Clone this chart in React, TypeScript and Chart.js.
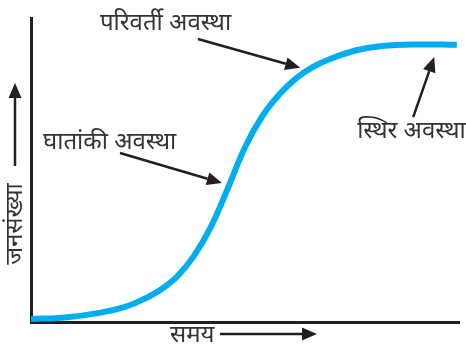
import React, { useEffect, useRef } from "react";
import { Chart, registerables } from "chart.js";
Chart.register(...registerables);

// Logistic (S-shaped) population growth curve
const TIME = [0, 8, 16, 22, 26, 30, 34, 38, 42, 46, 50, 54, 58, 62, 66, 70, 76, 82, 90, 99.5];
const POPULATION = [1.0, 1.5, 3.0, 5.0, 7.3, 10.4, 14.8, 21.6, 31.2, 44, 57.5, 67.6, 74.8, 80.2, 84.0, 86.6, 89.4, 90.8, 91.3, 91.2];
const PHASE_LABELS = ["परिवर्ती अवस्था", "घातांकी अवस्था", "स्थिर अवस्था"];
const X_TITLE = "समय";
const Y_TITLE = "जनसंख्या";

const FONT = '"Noto Sans", "Lohit Devanagari", "Noto Sans Devanagari", sans-serif';
const INK = "#231f20";
const TEXT = "#333333";
const FONT_SIZE = 24;

function arrow(ctx: CanvasRenderingContext2D, x1: number, y1: number, x2: number, y2: number) {
  const head = 15;
  const half = 6.5;
  const ang = Math.atan2(y2 - y1, x2 - x1);
  const bx = x2 - head * Math.cos(ang);
  const by = y2 - head * Math.sin(ang);
  ctx.save();
  ctx.strokeStyle = INK;
  ctx.fillStyle = INK;
  ctx.lineWidth = 2.5;
  ctx.beginPath();
  ctx.moveTo(x1, y1);
  ctx.lineTo(bx, by);
  ctx.stroke();
  ctx.beginPath();
  ctx.moveTo(x2, y2);
  ctx.lineTo(bx - half * Math.sin(ang), by + half * Math.cos(ang));
  ctx.lineTo(bx + half * Math.sin(ang), by - half * Math.cos(ang));
  ctx.closePath();
  ctx.fill();
  ctx.restore();
}

const annotationPlugin = {
  id: "phaseAnnotations",
  afterDraw(chart: any) {
    const ctx: CanvasRenderingContext2D = chart.ctx;
    const xs = chart.scales.x;
    const ys = chart.scales.y;
    const X = (v: number) => xs.getPixelForValue(v);
    const Y = (v: number) => ys.getPixelForValue(v);
    const area = chart.chartArea;

    ctx.save();
    ctx.fillStyle = TEXT;
    ctx.font = `${FONT_SIZE}px ${FONT}`;
    ctx.textBaseline = "middle";
    ctx.textAlign = "left";
    ctx.fillText(PHASE_LABELS[0], X(16.1), Y(98.4));
    ctx.fillText(PHASE_LABELS[1], X(2.8), Y(59.2));
    ctx.fillText(PHASE_LABELS[2], X(76.2), Y(62.8));
    ctx.restore();

    arrow(ctx, X(39.0), Y(93.1), X(62.9), Y(83.6));
    arrow(ctx, X(20.8), Y(55.6), X(44.6), Y(45.7));
    arrow(ctx, X(89.3), Y(67.4), X(94.2), Y(87.2));

    // axis titles
    ctx.save();
    ctx.fillStyle = TEXT;
    ctx.font = `${FONT_SIZE}px ${FONT}`;
    ctx.textBaseline = "middle";
    ctx.textAlign = "left";
    ctx.fillText(X_TITLE, area.left + 139, area.bottom + 13);
    ctx.restore();
    arrow(ctx, area.left + 189, area.bottom + 12, area.left + 286, area.bottom + 12);

    ctx.save();
    ctx.fillStyle = TEXT;
    ctx.font = `${FONT_SIZE}px ${FONT}`;
    ctx.textBaseline = "middle";
    ctx.textAlign = "center";
    ctx.translate(area.left - 16, 224);
    ctx.rotate(-Math.PI / 2);
    ctx.fillText(Y_TITLE, 0, 0);
    ctx.restore();
    arrow(ctx, area.left - 16, 166, area.left - 16, 83);
  },
};

export default function App() {
  const ref = useRef<HTMLCanvasElement | null>(null);
  useEffect(() => {
    document.body.style.margin = "0";
    const canvas = ref.current;
    if (!canvas) return;
    const chart = new Chart(canvas, {
      type: "line",
      data: {
        datasets: [
          {
            data: TIME.map((t, i) => ({ x: t, y: POPULATION[i] })),
            borderColor: "#00aeef",
            borderWidth: 6,
            pointRadius: 0,
            tension: 0.4,
            fill: false,
            borderCapStyle: "butt",
          },
        ],
      },
      options: {
        animation: false,
        responsive: false,
        devicePixelRatio: 1,
        layout: { padding: { left: 31, top: 18, right: 7, bottom: 23 } },
        plugins: { legend: { display: false }, tooltip: { enabled: false } },
        scales: {
          x: {
            type: "linear",
            min: 0,
            max: 100,
            ticks: { display: false },
            grid: { display: false, drawTicks: false },
            border: { display: true, color: INK, width: 3 },
          },
          y: {
            type: "linear",
            min: 0,
            max: 100,
            ticks: { display: false },
            grid: { display: false, drawTicks: false },
            border: { display: true, color: INK, width: 3 },
          },
        },
      },
      plugins: [annotationPlugin],
    });
    return () => chart.destroy();
  }, []);
  return (
    <div style={{ position: "absolute", left: 0, top: 0, width: 466, height: 345, background: "#fff" }}>
      <canvas ref={ref} width={466} height={345} />
    </div>
  );
}
